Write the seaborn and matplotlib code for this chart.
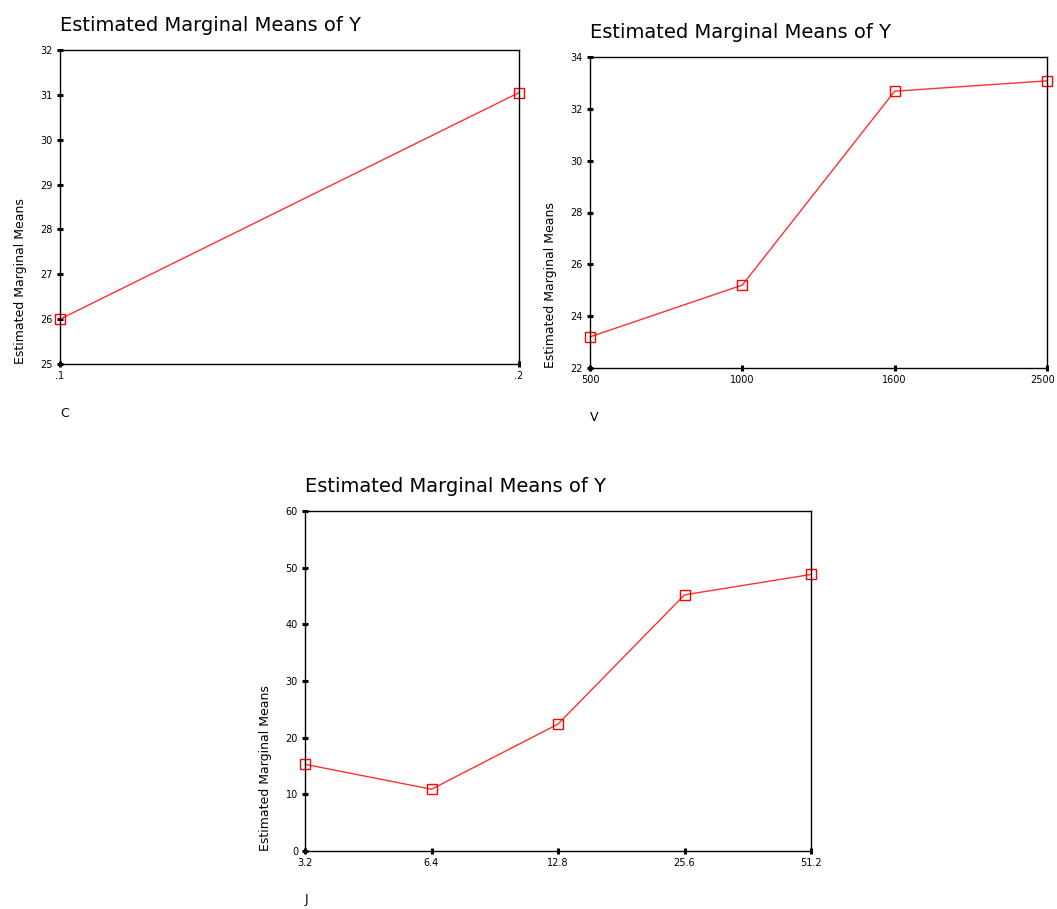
import matplotlib
matplotlib.use("Agg")
import matplotlib.pyplot as plt
import matplotlib.transforms as mtransforms
import seaborn as sns
import pandas as pd

# Estimated marginal means
c_levels = [".1", ".2"]
c_means = [26.0, 31.05]

v_levels = ["500", "1000", "1600", "2500"]
v_means = [23.2, 25.2, 32.68, 33.08]

j_levels = ["3.2", "6.4", "12.8", "25.6", "51.2"]
j_means = [15.3, 10.9, 22.4, 45.2, 48.8]

sns.set_theme(style="white")
plt.rcParams.update({
    'font.family': ['DejaVu Sans'],
    'text.color': 'black',
    'axes.labelcolor': 'black',
    'axes.edgecolor': 'black',
    'axes.linewidth': 1.0,
    'xtick.color': 'black',
    'ytick.color': 'black',
})

W, H = 1057, 909
fig = plt.figure(figsize=(W / 100, H / 100), dpi=100)
fig.patch.set_facecolor('white')


def px_axes(left, top, right, bottom):
    return fig.add_axes([left / W, (H - bottom) / H, (right - left) / W, (bottom - top) / H])


def profile_plot(ax, levels, means, factor, ylim, yticks, xpad=19):
    df = pd.DataFrame({'pos': range(len(levels)), 'mean': means})
    sns.lineplot(data=df, x='pos', y='mean', ax=ax, color='#ff3030', linewidth=1.0,
                 marker='s', markersize=7, markerfacecolor='none',
                 markeredgecolor='#ff0000', markeredgewidth=1.0, clip_on=False)
    ax.set_xlim(0, len(levels) - 1)
    ax.set_ylim(*ylim)
    ax.set_xticks(range(len(levels)))
    ax.set_xticklabels(levels)
    ax.set_yticks(yticks)
    ax.tick_params(axis='both', direction='inout', length=4, width=2.2,
                   labelsize=7, pad=3, bottom=True, left=True)
    for s in ax.spines.values():
        s.set_visible(True)
        s.set_color('black')
    ax.set_title("Estimated Marginal Means of Y", loc='left', fontsize=14, pad=14)
    ax.set_ylabel("Estimated Marginal Means", loc='bottom', fontsize=9, labelpad=10)
    ax.set_xlabel(factor, loc='left', fontsize=9, labelpad=xpad)


ax1 = px_axes(60, 50, 519, 364)
profile_plot(ax1, c_levels, c_means, "C", (25, 32), range(25, 33))

ax2 = px_axes(590, 57, 1047, 368)
profile_plot(ax2, v_levels, v_means, "V", (22, 34), range(22, 35, 2))
# last label sits on the figure edge, nudge it in a little
last = ax2.get_xticklabels()[-1]
last.set_transform(last.get_transform() + mtransforms.ScaledTranslation(-4 / 100, 0, fig.dpi_scale_trans))

ax3 = px_axes(305, 511, 811, 851)
profile_plot(ax3, j_levels, j_means, "J", (0, 60), range(0, 61, 10), xpad=18)

fig.savefig("out.png", dpi=100, facecolor='white')
